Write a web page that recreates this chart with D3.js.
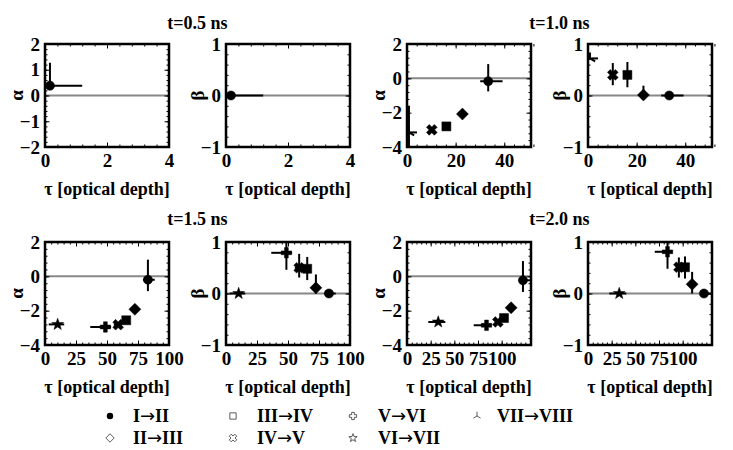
<!DOCTYPE html>
<html>
<head>
<meta charset="utf-8">
<script src="https://cdn.jsdelivr.net/npm/d3@7"></script>
<style>
  body { margin: 0; background: #fff; }
  svg text { font-family: "Liberation Serif", "DejaVu Serif", serif; font-weight: bold; fill: #000; }
</style>
</head>
<body>
<div id="chart"></div>
<script>
// Transitions and their marker kinds
const transitions = ['I→II', 'II→III', 'III→IV', 'IV→V', 'V→VI', 'VI→VII', 'VII→VIII'];
const markerKinds = ['circle', 'diamond', 'square', 'x', 'plus', 'star', 'tri'];

// Snapshots and axis settings
const timeLabels = ['t=0.5 ns', 't=1.0 ns', 't=1.5 ns', 't=2.0 ns'];
const tauDomains = [[0, 4], [0, 51], [0, 100], [0, 131]];
const tauTicks = [[0, 2, 4], [0, 20, 40], [0, 25, 50, 75, 100], [0, 25, 50, 75, 100]];
const tauMinor = [0.4, 4, 5, 5];
const alphaDomains = [[-2, 2], [-4, 2], [-4, 2], [-4, 2]];
const alphaTicks = [[-2, -1, 0, 1, 2], [-4, -2, 0, 2], [-4, -2, 0, 2], [-4, -2, 0, 2]];
const alphaMinor = [0.2, 0.4, 0.4, 0.4];
const betaDomain = [-1, 1];
const betaTicks = [-1, 0, 1];
const betaMinor = 0.2;

// Fits: [transition, tau, tauLo, tauHi, alpha, alphaLo, alphaHi, beta, betaLo, betaHi]
const fits05 = [
  [0, 0.16, 0.05, 1.2, 0.38, 0.38, 1.27, 0.0, 0.0, 0.0]
];
const fits10 = [
  [6, 0.8, 0.0, 4.1, -3.15, -4.5, -1.6, 0.72, 0.72, 0.72],
  [3, 10.2, 10.2, 10.2, -3.0, -3.0, -3.0, 0.40, 0.20, 0.63],
  [2, 16.2, 16.2, 16.2, -2.8, -2.8, -2.8, 0.40, 0.16, 0.65],
  [1, 22.8, 22.8, 22.8, -2.08, -2.08, -2.08, 0.01, 0.0, 0.19],
  [0, 33.4, 30.1, 39.3, -0.17, -0.76, 0.83, 0.0, 0.0, 0.0]
];
const fits15 = [
  [5, 10.2, 3.0, 15.5, -2.8, -2.8, -2.8, 0.0, 0.0, 0.0],
  [4, 48.7, 36.5, 53.3, -2.95, -2.95, -2.95, 0.79, 0.46, 1.05],
  [3, 59.0, 55.5, 62.0, -2.82, -2.82, -2.82, 0.50, 0.31, 0.77],
  [2, 65.5, 65.5, 65.5, -2.56, -2.56, -2.56, 0.48, 0.26, 0.71],
  [1, 72.5, 72.5, 72.5, -1.92, -1.92, -1.92, 0.11, 0.0, 0.37],
  [0, 83.0, 79.0, 88.5, -0.2, -0.86, 0.97, 0.0, 0.0, 0.0]
];
const fits20 = [
  [5, 33.0, 22.5, 40.5, -2.66, -2.66, -2.66, 0.0, 0.0, 0.0],
  [4, 84.0, 70.5, 89.0, -2.85, -2.85, -2.85, 0.81, 0.48, 1.05],
  [3, 96.0, 96.0, 96.0, -2.66, -2.66, -2.66, 0.51, 0.31, 0.70],
  [2, 102.5, 102.5, 102.5, -2.43, -2.43, -2.43, 0.51, 0.29, 0.72],
  [1, 110.0, 110.0, 110.0, -1.83, -1.83, -1.83, 0.18, 0.0, 0.42],
  [0, 122.5, 118.5, 133.0, -0.23, -0.91, 0.89, 0.0, 0.0, 0.0]
];
const fitsByTime = [fits05, fits10, fits15, fits20];

// Layout
const width = 733;
const height = 450;
const colX = [45, 226, 407, 588];
const rowY = [44, 242];
const titleY = [29, 225];
const pw = 124;
const ph = 103;

const svg = d3.select('#chart')
  .append('svg')
  .attr('width', width)
  .attr('height', height);

svg.append('rect').attr('width', width).attr('height', height).attr('fill', '#fff');

function markerPath(kind, s) {
  const p = d3.path();
  if (kind === 'circle') {
    p.arc(0, 0, 4.6 * s, 0, 2 * Math.PI);
    return p.toString();
  }
  let pts = [];
  if (kind === 'diamond') {
    pts = [[0, -6], [6, 0], [0, 6], [-6, 0]];
  } else if (kind === 'square') {
    pts = [[-4.5, -4.5], [4.5, -4.5], [4.5, 4.5], [-4.5, 4.5]];
  } else if (kind === 'x' || kind === 'plus') {
    const a = kind === 'x' ? 2.0 : 1.9;
    const L = kind === 'x' ? 5.6 : 5.2;
    pts = [[-a, -L], [a, -L], [a, -a], [L, -a], [L, a], [a, a], [a, L], [-a, L], [-a, a], [-L, a], [-L, -a], [-a, -a]];
    if (kind === 'x') {
      const c = Math.SQRT1_2;
      pts = pts.map(([x, y]) => [c * (x - y), c * (x + y)]);
    }
  } else if (kind === 'star') {
    for (let k = 0; k < 10; k++) {
      const r = k % 2 === 0 ? 6.2 : 2.5;
      const ang = -Math.PI / 2 + k * Math.PI / 5;
      pts.push([r * Math.cos(ang), r * Math.sin(ang)]);
    }
  } else if (kind === 'tri') {
    const R = 6 * s;
    p.moveTo(0, 0); p.lineTo(0, -R);
    p.moveTo(0, 0); p.lineTo(-R * Math.cos(Math.PI / 6), R * Math.sin(Math.PI / 6));
    p.moveTo(0, 0); p.lineTo(R * Math.cos(Math.PI / 6), R * Math.sin(Math.PI / 6));
    return p.toString();
  }
  pts.forEach(([x, y], k) => {
    if (k === 0) p.moveTo(x * s, y * s); else p.lineTo(x * s, y * s);
  });
  p.closePath();
  return p.toString();
}

function minorValues(domain, step) {
  const n = Math.round((domain[1] - domain[0]) / step);
  return d3.range(n + 1).map(k => domain[0] + k * step);
}

let clipCount = 0;

function drawPanel(x0, y0, xDomain, xTickVals, xStep, yDomain, yTickVals, yStep, yLabel, fits, vi) {
  const g = svg.append('g').attr('transform', `translate(${x0},${y0})`);
  const x = d3.scaleLinear().domain(xDomain).range([0, pw]);
  const y = d3.scaleLinear().domain(yDomain).range([ph, 0]);

  const clipId = `clip${clipCount++}`;
  g.append('clipPath').attr('id', clipId)
    .append('rect').attr('width', pw).attr('height', ph);

  const plot = g.append('g').attr('clip-path', `url(#${clipId})`);

  // zero reference line
  plot.append('line')
    .attr('x1', 0).attr('x2', pw)
    .attr('y1', y(0)).attr('y2', y(0))
    .attr('stroke', '#888')
    .attr('stroke-width', 2);

  // error bars
  fits.forEach(f => {
    const tau = f[1], tLo = f[2], tHi = f[3];
    const v = f[vi], lo = f[vi + 1], hi = f[vi + 2];
    if (tHi > tLo) {
      plot.append('line')
        .attr('x1', x(tLo)).attr('x2', x(tHi))
        .attr('y1', y(v)).attr('y2', y(v))
        .attr('stroke', '#000').attr('stroke-width', 2);
    }
    if (hi > lo) {
      plot.append('line')
        .attr('x1', x(tau)).attr('x2', x(tau))
        .attr('y1', y(lo)).attr('y2', y(hi))
        .attr('stroke', '#000').attr('stroke-width', 2);
    }
  });

  // markers
  plot.selectAll('path.mk')
    .data(fits)
    .join('path')
    .attr('class', 'mk')
    .attr('transform', f => `translate(${x(f[1])},${y(f[vi])})`)
    .attr('d', f => markerPath(markerKinds[f[0]], 1))
    .attr('fill', f => markerKinds[f[0]] === 'tri' ? 'none' : '#000')
    .attr('stroke', '#000')
    .attr('stroke-width', f => markerKinds[f[0]] === 'tri' ? 2 : 0.5);

  // ticks, inward on all four sides
  const styleAxis = sel => {
    sel.select('.domain').remove();
    sel.selectAll('.tick line').attr('stroke', '#000').attr('stroke-width', 1);
    sel.selectAll('.tick text').style('font-size', '19px');
  };

  g.append('g').attr('transform', `translate(0,${ph})`)
    .call(d3.axisBottom(x).tickValues(xTickVals).tickSize(-4.5).tickPadding(7).tickFormat(d3.format('d')))
    .call(styleAxis);
  g.append('g').attr('transform', `translate(0,${ph})`)
    .call(d3.axisBottom(x).tickValues(minorValues(xDomain, xStep)).tickSize(-2.5).tickFormat(''))
    .call(styleAxis);
  g.append('g')
    .call(d3.axisTop(x).tickValues(minorValues(xDomain, xStep)).tickSize(-2.5).tickFormat(''))
    .call(styleAxis);
  g.append('g')
    .call(d3.axisTop(x).tickValues(xTickVals).tickSize(-4.5).tickFormat(''))
    .call(styleAxis);

  g.append('g')
    .call(d3.axisLeft(y).tickValues(yTickVals).tickSize(-4.5).tickPadding(5).tickFormat(d3.format('d')))
    .call(styleAxis);
  g.append('g')
    .call(d3.axisLeft(y).tickValues(minorValues(yDomain, yStep)).tickSize(-2.5).tickFormat(''))
    .call(styleAxis);
  g.append('g').attr('transform', `translate(${pw},0)`)
    .call(d3.axisRight(y).tickValues(minorValues(yDomain, yStep)).tickSize(-2.5).tickFormat(''))
    .call(styleAxis);
  g.append('g').attr('transform', `translate(${pw},0)`)
    .call(d3.axisRight(y).tickValues(yTickVals).tickSize(-4.5).tickFormat(''))
    .call(styleAxis);

  // frame
  g.append('rect')
    .attr('width', pw).attr('height', ph)
    .attr('fill', 'none')
    .attr('stroke', '#000')
    .attr('stroke-width', 2.5);

  // axis labels
  g.append('text')
    .attr('transform', `translate(-29,${ph / 2}) rotate(-90)`)
    .attr('text-anchor', 'middle')
    .attr('dy', '0.35em')
    .style('font-size', '19px')
    .text(yLabel);

  g.append('text')
    .attr('x', pw / 2)
    .attr('y', ph + 48)
    .attr('text-anchor', 'middle')
    .style('font-size', '18px')
    .text('τ [optical depth]');
}

timeLabels.forEach((label, i) => {
  const row = Math.floor(i / 2);
  const c = (i % 2) * 2;
  const fits = fitsByTime[i];
  drawPanel(colX[c], rowY[row], tauDomains[i], tauTicks[i], tauMinor[i],
    alphaDomains[i], alphaTicks[i], alphaMinor[i], 'α', fits, 4);
  drawPanel(colX[c + 1], rowY[row], tauDomains[i], tauTicks[i], tauMinor[i],
    betaDomain, betaTicks, betaMinor, 'β', fits, 7);

  svg.append('text')
    .attr('x', (colX[c] + colX[c + 1] + pw) / 2)
    .attr('y', titleY[row])
    .attr('text-anchor', 'middle')
    .style('font-size', '18px')
    .text(label);
});

// legend, filled column by column
const legendMarkX = [110, 233, 353, 477];
const legendTextX = [133, 257, 378, 497];
const legendRowY = [416, 438];

transitions.forEach((name, k) => {
  const col = Math.floor(k / 2);
  const row = k % 2;
  const kind = markerKinds[k];
  svg.append('path')
    .attr('transform', `translate(${legendMarkX[col]},${legendRowY[row]})`)
    .attr('d', markerPath(kind, 0.7))
    .attr('fill', kind === 'circle' ? '#000' : 'none')
    .attr('stroke', kind === 'circle' ? 'none' : '#333')
    .attr('stroke-width', 0.8);
  const [from, to] = name.split('→');
  const t = svg.append('text')
    .attr('x', legendTextX[col])
    .attr('y', legendRowY[row])
    .attr('dy', '0.35em')
    .style('font-size', '18px');
  t.append('tspan').text(from);
  t.append('tspan').style('font-family', '"DejaVu Sans", sans-serif').style('font-weight', 'normal').text('→');
  t.append('tspan').text(to);
});
</script>
</body>
</html>
